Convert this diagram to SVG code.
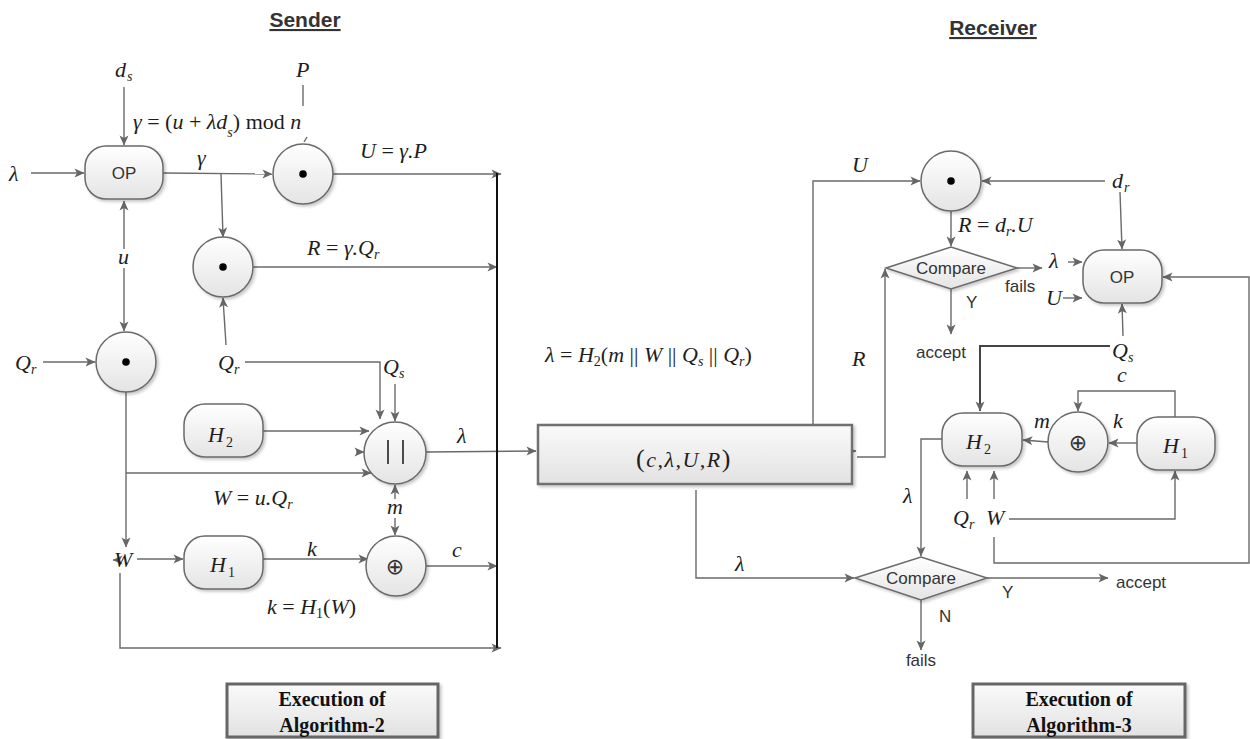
<svg xmlns="http://www.w3.org/2000/svg" width="1250" height="739" viewBox="0 0 1250 739">
<defs>
<linearGradient id="g" x1="0" y1="0" x2="0" y2="1"><stop offset="0" stop-color="#ffffff"/><stop offset="1" stop-color="#e4e4e4"/></linearGradient>
<linearGradient id="gb" x1="0" y1="0" x2="0" y2="1"><stop offset="0" stop-color="#fafafa"/><stop offset="1" stop-color="#e2e2e2"/></linearGradient>
<filter id="sh" x="-20%" y="-20%" width="150%" height="150%"><feDropShadow dx="2" dy="2" stdDeviation="1.5" flood-color="#000" flood-opacity="0.22"/></filter>
<marker id="ah" viewBox="0 0 10 10" refX="9.5" refY="5" markerWidth="11" markerHeight="10" markerUnits="userSpaceOnUse" orient="auto"><path d="M0,0.5 L10,5 L0,9.5 L2.5,5 Z" fill="#666"/></marker>
<style>
.ln{stroke:#6a6a6a;stroke-width:1.4;fill:none}
.a{marker-end:url(#ah)}
.dk{stroke:#444;stroke-width:2}
.bus{stroke:#111;stroke-width:2;fill:none}
.node{fill:url(#g);stroke:#6a6a6a;stroke-width:1.5;filter:url(#sh)}
.dot{fill:#000}
.m{font-family:"Liberation Serif",serif;font-style:italic;font-size:22px;fill:#1e1e1e}
.up{font-style:normal}
.sb{font-size:14px}
.s{font-family:"Liberation Sans",Arial,sans-serif;font-size:17px;fill:#333}
.c{text-anchor:middle}
.t{font-family:"Liberation Sans",Arial,sans-serif;font-weight:bold;font-size:21px;fill:#333;text-decoration:underline;text-anchor:middle}
.e{font-family:"Liberation Serif",serif;font-weight:bold;font-size:20px;fill:#111;text-anchor:middle}
.ex{fill:url(#gb);stroke:#666;stroke-width:3;filter:url(#sh)}
.xo{font-family:"DejaVu Sans",sans-serif;font-size:22px;fill:#333;text-anchor:middle}
</style>
</defs>
<rect width="1250" height="739" fill="#fff"/>

<!-- titles -->
<text class="t" x="305" y="27">Sender</text>
<text class="t" x="993" y="35">Receiver</text>

<!-- connectors -->
<g id="connectors">
<!-- sender -->
<path class="ln a" d="M124,87 V145"/>
<path class="ln" d="M303,85 V106"/>
<path class="ln" d="M304,142 L307,137"/>
<path class="ln a" d="M31,173 H84"/>
<path class="ln a" d="M163,173 L272,174"/>
<path class="ln a" d="M333,174 H501"/>
<path class="ln a" d="M221,174 L223,237"/>
<path class="ln a" d="M253,267 H497"/>
<path class="ln a" d="M124,249 V201"/>
<path class="ln a" d="M124,268 V331"/>
<path class="ln a" d="M43,362 H95"/>
<path class="ln a" d="M226,345 L223,298"/>
<path class="ln a" d="M245,362 H380 V419"/>
<path class="ln a" d="M395,384 V421"/>
<path class="ln a" d="M263,431 H369"/>
<path class="ln a" d="M356,452 L364,452"/>
<path class="ln a" d="M126,392 V547"/>
<path class="ln a" d="M126,473 H371"/>
<path class="ln a" d="M426,452 L536,451"/>
<path class="ln a" d="M395,499 V485"/>
<path class="ln a" d="M395,518 V535"/>
<path class="ln a" d="M120,560 L113,560"/>
<path class="ln a" d="M137,559 H183"/>
<path class="ln a" d="M263,559 H368"/>
<path class="ln a" d="M426,566 H497"/>
<path class="ln a" d="M120,573 V648 H501"/>
<path class="bus" d="M497,173 V648"/>
<!-- center -->
<path class="ln a" d="M813,425 V181 H920"/>
<path class="ln a" d="M850,451 L856,451"/>
<path class="ln a" d="M857,457 H885 V269"/>
<path class="ln a" d="M696,490 V578 H854"/>
<!-- receiver -->
<path class="ln a" d="M1105,181 H982"/>
<path class="ln a" d="M1120,192 L1122,249"/>
<path class="ln a" d="M951,211 V246"/>
<path class="ln a" d="M1017,268 H1042"/>
<path class="ln a" d="M1068,262 H1082"/>
<path class="ln a" d="M1063,298 H1082"/>
<path class="ln a" d="M951,289 V334"/>
<path class="ln a" d="M1123,336 L1122,304"/>
<path class="ln a dk" d="M1110,346 H980 V411"/>
<path class="ln a" d="M1175,417 V391 H1078 V411"/>
<path class="ln a" d="M1137,443 H1109"/>
<path class="ln a" d="M1048,442 L1023,440"/>
<path class="ln a" d="M942,439 H921 V556"/>
<path class="ln a" d="M967,499 V471"/>
<path class="ln a" d="M994,499 V471"/>
<path class="ln a" d="M1009,519 H1175 V471"/>
<path class="ln a" d="M994,537 V563 H1249 V277 H1163"/>
<path class="ln a" d="M987,578 H1108"/>
<path class="ln a" d="M921,600 V650"/>
</g>

<!-- sender nodes -->
<g id="s-op"><rect class="node" x="85" y="146" width="78" height="53" rx="21"/><text class="s c" x="124" y="179">OP</text></g>
<g id="s-mulP"><circle class="node" cx="303" cy="174" r="30"/><circle class="dot" cx="303" cy="174" r="3.8"/></g>
<g id="s-mulQr"><circle class="node" cx="223" cy="267" r="30"/><circle class="dot" cx="223" cy="267" r="3.8"/></g>
<g id="s-mulW"><circle class="node" cx="126" cy="362" r="30"/><circle class="dot" cx="126" cy="362" r="3.8"/></g>
<g id="s-h2"><rect class="node" x="184" y="404" width="79" height="53" rx="21"/><text class="m" x="208" y="442">H<tspan class="sb up" dx="2" dy="5">2</tspan></text></g>
<g id="s-concat"><circle class="node" cx="395" cy="453" r="31"/><path d="M388,440 V464 M403,440 V464" stroke="#222" stroke-width="1.6"/></g>
<g id="s-h1"><rect class="node" x="184" y="536" width="79" height="53" rx="21"/><text class="m" x="210" y="572">H<tspan class="sb up" dx="2" dy="5">1</tspan></text></g>
<g id="s-xor"><circle class="node" cx="396" cy="566" r="30"/><text class="xo" x="395" y="574">⊕</text></g>
<g id="s-exec"><rect class="ex" x="227" y="684" width="211" height="53"/><text class="e" x="332" y="706">Execution of</text><text class="e" x="332" y="732">Algorithm-2</text></g>

<!-- center node -->
<g id="packet"><rect x="538" y="425" width="314" height="59" fill="url(#gb)" stroke="#707070" stroke-width="2.5" filter="url(#sh)"/><text class="m" x="684" y="467" text-anchor="middle" font-size="23" letter-spacing="1.5"><tspan class="up" font-size="26">(</tspan>c,λ,U,R<tspan class="up" font-size="26">)</tspan></text></g>

<!-- receiver nodes -->
<g id="r-mul"><circle class="node" cx="951" cy="181" r="30"/><circle class="dot" cx="951" cy="181" r="3.8"/></g>
<g id="r-cmp1"><path class="node" d="M886,268 L951,247 L1017,268 L951,289 Z"/><text class="s c" x="951" y="274">Compare</text></g>
<g id="r-op"><rect class="node" x="1083" y="250" width="79" height="53" rx="21"/><text class="s c" x="1122" y="283">OP</text></g>
<g id="r-h2"><rect class="node" x="942" y="413" width="80" height="53" rx="21"/><text class="m" x="966" y="449">H<tspan class="sb up" dx="2" dy="5">2</tspan></text></g>
<g id="r-xor"><circle class="node" cx="1078" cy="442" r="30"/><text class="xo" x="1078" y="450">⊕</text></g>
<g id="r-h1"><rect class="node" x="1137" y="417" width="78" height="53" rx="21"/><text class="m" x="1163" y="453">H<tspan class="sb up" dx="2" dy="5">1</tspan></text></g>
<g id="r-cmp2"><path class="node" d="M855,578 L921,557 L987,578 L921,600 Z"/><text class="s c" x="921" y="584">Compare</text></g>
<g id="r-exec"><rect class="ex" x="973" y="684" width="212" height="53"/><text class="e" x="1079" y="706">Execution of</text><text class="e" x="1079" y="732">Algorithm-3</text></g>

<!-- labels -->
<g id="labels">
<text class="m" x="115" y="77">d<tspan class="sb" dx="1" dy="4">s</tspan></text>
<text class="m" x="296" y="77">P</text>
<text class="m" x="133" y="129">γ<tspan class="up"> = (</tspan>u<tspan class="up"> + </tspan>λd<tspan class="sb" dy="8">s</tspan><tspan class="up" dy="-8">) mod </tspan>n</text>
<text class="m" x="9" y="181">λ</text>
<text class="m" x="197" y="165">γ</text>
<text class="m" x="360" y="158">U<tspan class="up"> = </tspan>γ.P</text>
<text class="m" x="307" y="255">R<tspan class="up"> = </tspan>γ.Q<tspan class="sb" dy="4">r</tspan></text>
<text class="m" x="118" y="264">u</text>
<text class="m" x="15" y="370">Q<tspan class="sb" dy="4">r</tspan></text>
<text class="m" x="218" y="370">Q<tspan class="sb" dy="4">r</tspan></text>
<text class="m" x="383" y="374">Q<tspan class="sb" dy="4">s</tspan></text>
<text class="m" x="457" y="443">λ</text>
<text class="m" x="213" y="505">W<tspan class="up"> = </tspan>u.Q<tspan class="sb" dy="4">r</tspan></text>
<text class="m" x="387" y="514">m</text>
<text class="m" x="114" y="567">W</text>
<text class="m" x="307" y="556">k</text>
<text class="m" x="452" y="557">c</text>
<text class="m" x="267" y="614">k<tspan class="up"> = </tspan>H<tspan class="sb up" dy="4">1</tspan><tspan class="up" dy="-4">(</tspan>W<tspan class="up">)</tspan></text>

<text class="m" x="545" y="362">λ<tspan class="up"> = </tspan>H<tspan class="sb up" dy="4">2</tspan><tspan class="up" dy="-4">(</tspan>m<tspan class="up"> || </tspan>W<tspan class="up"> || </tspan>Q<tspan class="sb" dy="4">s</tspan><tspan class="up" dy="-4"> || </tspan>Q<tspan class="sb" dy="4">r</tspan><tspan class="up" dy="-4">)</tspan></text>
<text class="m" x="852" y="172">U</text>
<text class="m" x="852" y="366">R</text>
<text class="m" x="735" y="571">λ</text>

<text class="m" x="1112" y="188">d<tspan class="sb" dx="1" dy="4">r</tspan></text>
<text class="m" x="958" y="232">R<tspan class="up"> = </tspan>d<tspan class="sb" dy="4">r</tspan><tspan dy="-4">.U</tspan></text>
<text class="m" x="1049" y="268">λ</text>
<text class="s" x="1005" y="292">fails</text>
<text class="m" x="1046" y="305">U</text>
<text class="s" x="966" y="308">Y</text>
<text class="s c" x="941" y="358">accept</text>
<text class="m" x="1112" y="358">Q<tspan class="sb" dy="4">s</tspan></text>
<text class="m" x="1117" y="382">c</text>
<text class="m" x="1113" y="428">k</text>
<text class="m" x="1034" y="428">m</text>
<text class="m" x="903" y="503">λ</text>
<text class="m" x="953" y="525">Q<tspan class="sb" dy="4">r</tspan></text>
<text class="m" x="986" y="525">W</text>
<text class="s" x="1002" y="598">Y</text>
<text class="s" x="1116" y="588">accept</text>
<text class="s" x="939" y="622">N</text>
<text class="s c" x="921" y="666">fails</text>
</g>
</svg>
